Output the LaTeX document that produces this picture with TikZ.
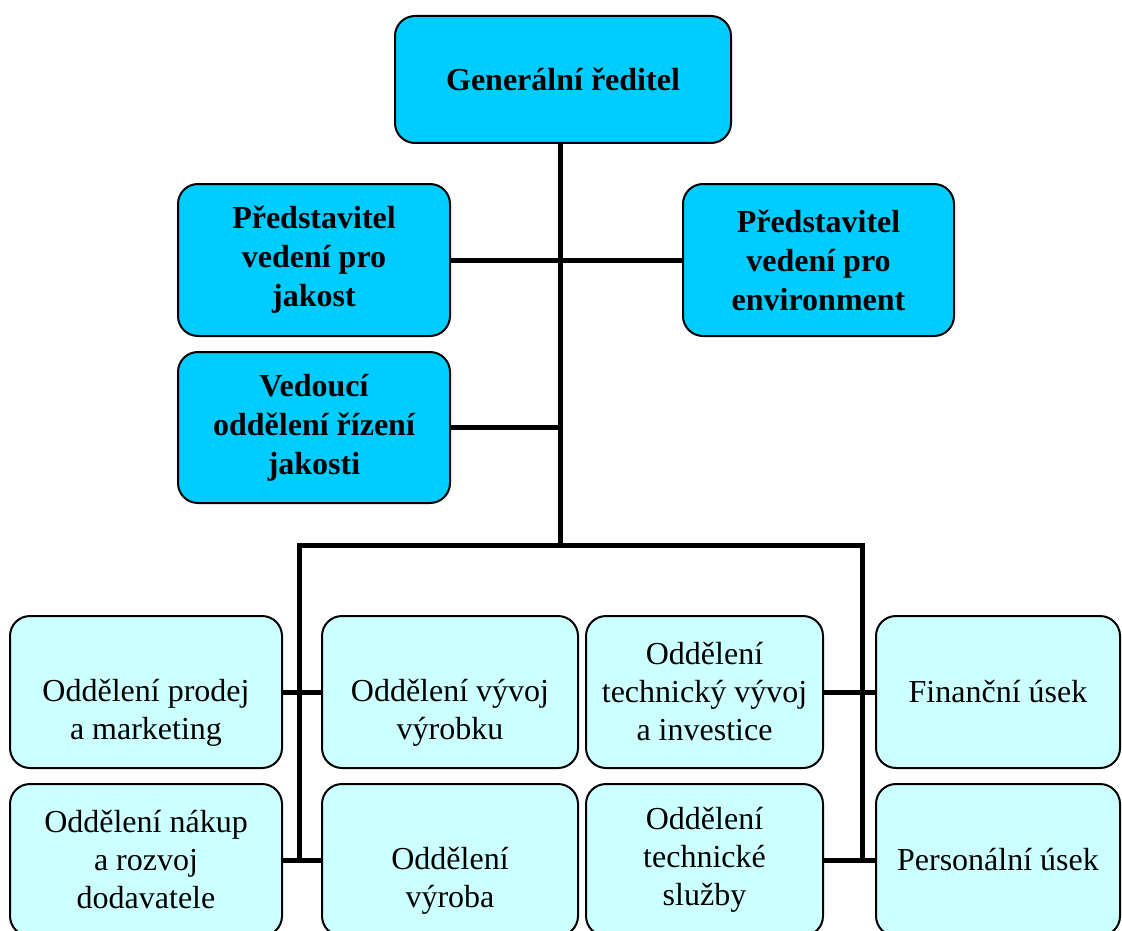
\documentclass[tikz,border=0pt]{standalone}
\usepackage{fontspec}
\setmainfont{Liberation Serif}
\definecolor{topcyan}{HTML}{00CCFF}
\definecolor{lowcyan}{HTML}{CCFFFF}
\tikzset{boxbase/.style={draw,line width=2pt,rounded corners=20pt,align=center,
    inner sep=0pt,font=\fontsize{32}{38}\selectfont},
  topbox/.style={boxbase,fill=topcyan,font=\fontsize{32}{39}\selectfont\bfseries},
  deptbox/.style={boxbase,fill=lowcyan,minimum height=152pt},
  conn/.style={line width=5pt}}

\begin{document}
\begin{tikzpicture}[x=1pt,y=-1pt]
  \useasboundingbox (0,0) rectangle (1122,931);
  \clip (0,0) rectangle (1122,931);
  \fill[white] (0,0) rectangle (1122,931);
  % vedeni
  \node[topbox,minimum width=336pt,minimum height=127pt] (gen) at (563,79.5) {Generální ředitel};
  \node[topbox,minimum width=272pt,minimum height=152pt] (pvj) at (314,260)
    {Představitel\\vedení pro\\jakost};
  \node[topbox,minimum width=271pt,minimum height=152pt] (pve) at (818.5,260)
    {Představitel\\vedení pro\\environment};
  \node[topbox,minimum width=272pt,minimum height=151pt] (vor) at (314,427.5)
    {Vedoucí\\oddělení řízení\\jakosti};
  % oddeleni
  \node[deptbox,minimum width=272pt] (prodej) at (146,692) {\strut\\Oddělení prodej\\a marketing};
  \node[deptbox,minimum width=256pt] (vyvoj) at (450,692) {\strut\\Oddělení vývoj\\výrobku};
  \node[deptbox,minimum width=237pt] (techvyvoj) at (704.5,692) {Oddělení\\technický vývoj\\a investice};
  \node[deptbox,minimum width=244pt] (financni) at (998,692) {Finanční úsek};
  \node[deptbox,minimum width=272pt] (nakup) at (146,860) {Oddělení nákup\\a rozvoj\\dodavatele};
  \node[deptbox,minimum width=256pt] (vyroba) at (450,860) {\strut\\Oddělení\\výroba};
  \node[deptbox,minimum width=237pt] (sluzby) at (704.5,860) {Oddělení\\technické\\služby};
  \node[deptbox,minimum width=244pt] (personal) at (998,860) {Personální úsek};
  % spojnice
  \coordinate (bus) at (560,545);
  \coordinate (busl) at (299,545);
  \coordinate (busr) at (862,545);
  \draw[conn] (gen.south -| bus) -- (bus);
  \draw[conn] (pvj.east) -- (pve.west);
  \draw[conn] (vor.east) -- (vor.east -| bus);
  \draw[conn] (busl |- nakup.east) -- (busl) -- (busr) -- (busr |- sluzby.east);
  \draw[conn] (prodej.east) -- (vyvoj.west);
  \draw[conn] (nakup.east) -- (vyroba.west);
  \draw[conn] (techvyvoj.east) -- (financni.west);
  \draw[conn] (sluzby.east) -- (personal.west);
\end{tikzpicture}
\end{document}
